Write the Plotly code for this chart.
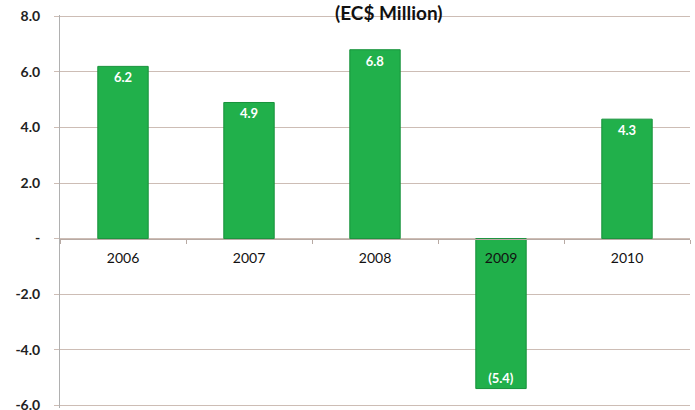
import plotly.graph_objects as go

# Annual results, EC$ million
years = ["2006", "2007", "2008", "2009", "2010"]
values = [6.2, 4.9, 6.8, -5.4, 4.3]

y_ticks = [-6, -4, -2, 0, 2, 4, 6, 8]
y_tick_text = ["-6.0", "-4.0", "-2.0", "-", "2.0", "4.0", "6.0", "8.0"]

Y_MIN, Y_MAX = -6.1, 8.05

FONT = "Lato"


def fmt(v):
    return f"({abs(v):.1f})" if v < 0 else f"{v:.1f}"


labels = [fmt(v) for v in values]

fig = go.Figure(
    go.Bar(
        x=years,
        y=values,
        text=labels,
        textposition="inside",
        insidetextanchor="end",
        textangle=0,
        textfont=dict(color="white", size=13, family=FONT, weight="bold"),
        marker=dict(color="#21b04b", line=dict(color="#17923b", width=1)),
        width=0.4,
        cliponaxis=False,
    )
)

fig.update_layout(
    width=695,
    height=410,
    margin=dict(l=60, r=5, t=15, b=2, autoexpand=False),
    paper_bgcolor="white",
    plot_bgcolor="white",
    showlegend=False,
    font=dict(family=FONT, size=14, color="#222222"),
    annotations=[
        dict(
            text="<b>(EC$ Million)</b>",
            xref="paper",
            yref="paper",
            x=0.522,
            y=1,
            yanchor="bottom",
            yshift=-11,
            showarrow=False,
            font=dict(size=19, color="#111111", family=FONT),
        )
    ],
)

fig.update_xaxes(
    type="category",
    anchor="free",
    position=(0 - Y_MIN) / (Y_MAX - Y_MIN),
    automargin=False,
    showline=True,
    linecolor="#b8aaa4",
    linewidth=1,
    ticks="outside",
    tickson="boundaries",
    ticklen=4,
    tickcolor="#b8aaa4",
    ticklabelstandoff=7,
    showgrid=False,
    tickfont=dict(size=14, color="#111111", family=FONT),
    fixedrange=True,
)

fig.update_yaxes(
    range=[Y_MIN, Y_MAX],
    automargin=False,
    tickvals=y_ticks,
    ticktext=y_tick_text,
    ticklabeloverflow="allow",
    showgrid=True,
    gridcolor="#cdbdb5",
    gridwidth=1,
    zeroline=False,
    showline=True,
    linecolor="#b0b0b0",
    ticks="outside",
    ticklen=5,
    tickcolor="#cdbdb5",
    ticklabelstandoff=11,
    tickfont=dict(size=14, color="#222222", family=FONT, weight="bold"),
)

fig.write_html("out.html")
